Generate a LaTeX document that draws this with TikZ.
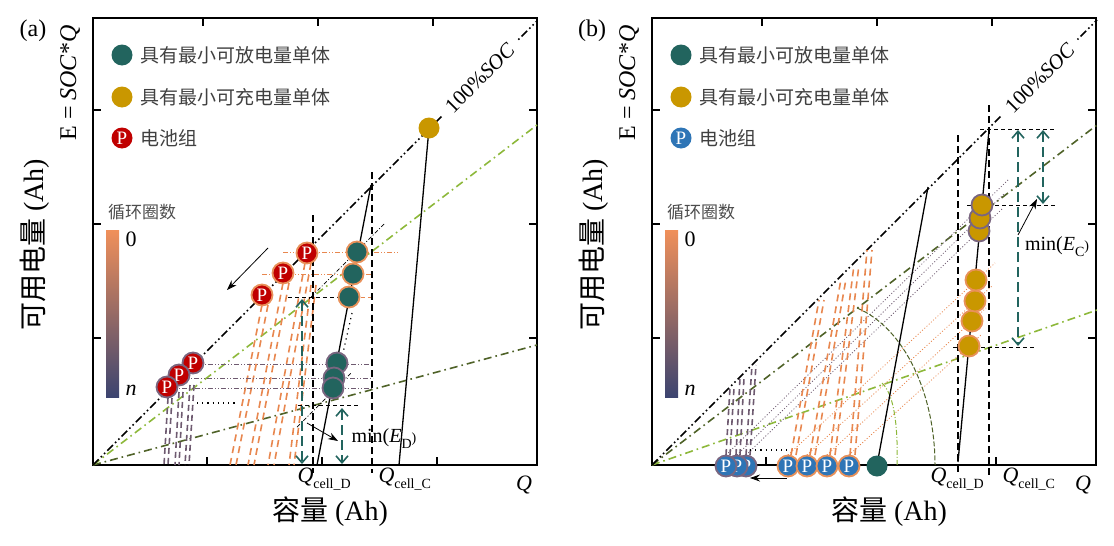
\documentclass[tikz,border=0pt]{standalone}
\usepackage{fontspec}
\setmainfont{Liberation Serif}
\newfontfamily\cjk{Noto Sans CJK SC}
\usetikzlibrary{arrows.meta}
\definecolor{tealc}{HTML}{22645E}
\definecolor{goldc}{HTML}{C99700}
\definecolor{redc}{HTML}{C00000}
\definecolor{bluec}{HTML}{2E75B6}
\definecolor{orc}{HTML}{E8874F}
\definecolor{oro}{HTML}{E8915A}
\definecolor{grc}{HTML}{6E5A70}
\definecolor{gro}{HTML}{7A6680}
\definecolor{lgc}{HTML}{8DB83A}
\definecolor{dgc}{HTML}{4F6228}
\definecolor{cbtop}{HTML}{F0905A}
\definecolor{cbbot}{HTML}{3C4470}
\tikzset{
  box/.style={line width=2.2pt},
  tk/.style={line width=1.6pt},
  socl/.style={black, line width=1.6pt, dash pattern=on 8pt off 3pt on 1.6pt off 3pt on 1.6pt off 3pt},
  lgl/.style={lgc, line width=1.6pt, dash pattern=on 8pt off 4pt on 1.6pt off 4pt},
  dgl/.style={dgc, line width=1.6pt, dash pattern=on 8pt off 4pt on 1.6pt off 4pt},
  vdash/.style={black, line width=1.5pt, dash pattern=on 7pt off 4pt},
  hdash/.style={black, line width=0.9pt, dash pattern=on 4pt off 3pt},
  hdot/.style={black, line width=1.2pt, dash pattern=on 1.2pt off 4pt},
  odd/.style={orc, line width=0.9pt, dash pattern=on 5pt off 2pt on 1pt off 2pt on 1pt off 2pt},
  gdd/.style={grc, line width=0.9pt, dash pattern=on 5pt off 2pt on 1pt off 2pt on 1pt off 2pt},
  kdd/.style={black, line width=0.7pt, dash pattern=on 4pt off 2pt on 1pt off 2pt},
  tarr/.style={tealc, line width=1.6pt, dash pattern=on 10pt off 5pt, <->, >={Straight Barb[length=7pt,width=12pt]}},
  obund/.style={orc, line width=1.6pt, dash pattern=on 7pt off 5pt},
  gbund/.style={grc, line width=1.6pt, dash pattern=on 6pt off 4pt},
  odot/.style={orc, line width=0.8pt, dash pattern=on 1pt off 2pt},
  gdot/.style={grc, line width=0.8pt, dash pattern=on 1pt off 2pt},
  cdot/.style={circle, minimum size=21pt, inner sep=0pt, line width=1.8pt},
  tdot/.style={cdot, fill=tealc},
  ydot/.style={cdot, fill=goldc},
  pdot/.style={cdot, text=white, font=\fontsize{19}{19}\selectfont},
  oo/.style={draw=oro}, go/.style={draw=gro},
  leg/.style={anchor=west, font=\cjk\fontsize{19}{19}\selectfont, text=black!75},
  blk/.style={-{Stealth[length=10pt,width=7pt]}, line width=0.8pt},
  qlab/.style={anchor=base west, font=\fontsize{22}{22}\selectfont},
  soclab/.style={rotate=45, fill=white, inner xsep=9pt, inner ysep=1pt, font=\fontsize{21}{21}\selectfont},
}
\newcommand\sublab[1]{\fontsize{14}{14}\selectfont\raisebox{-6pt}{#1}}
\begin{document}
\begin{tikzpicture}[x=1pt,y=-1pt]
\useasboundingbox (0,0) rectangle (1114,546);
% ===== common frame per panel =====
\foreach \ox/\pn/\pc in {0/a/redc,559/b/bluec}{
\begin{scope}[shift={(\ox,0)}]
  \draw[box] (93,18) rectangle (537,465);
  \foreach \t in {207,322,437} \draw[tk] (\t,465) -- (\t,457);
  \foreach \t in {203,318,433} \draw[tk] (\t,18) -- (\t,26);
  \foreach \t in {110,224,338} {\draw[tk] (93,\t) -- (101,\t); \draw[tk] (537,\t) -- (529,\t);}
  \node[font=\fontsize{24}{24}\selectfont] (lab\pn) at (33,31) {(\pn)};
  \node[rotate=90, font=\fontsize{24}{24}\selectfont] (esoc\pn) at (70,83) {E = \textit{SOC}*\textit{Q}};
  \node[rotate=90, font=\fontsize{28}{28}\selectfont] (ylab\pn) at (35,245) {{\cjk 可用电量}\rmfamily{} (Ah)};
  \node[font=\fontsize{28}{28}\selectfont] (xlab\pn) at (330,512) {{\cjk 容量}\rmfamily{} (Ah)};
  \node[font=\fontsize{22}{22}\selectfont\itshape] (qq\pn) at (524,485) {Q};
  % legend
  \node[tdot] (lt\pn) at (122,55) {};
  \node[leg] (ltt\pn) at (137,55) {具有最小可放电量单体};
  \node[ydot] (ly\pn) at (122,97) {};
  \node[leg] (lyt\pn) at (137,97) {具有最小可充电量单体};
  \node[pdot, fill=\pc] (lp\pn) at (122,138) {P};
  \node[leg] (lpt\pn) at (137,138) {电池组};
  % colour bar
  \shade[top color=cbtop, bottom color=cbbot] (106,230) rectangle (119,397);
  \node[font=\cjk\fontsize{17}{17}\selectfont, text=black!70] (cbt\pn) at (142,212) {循环圈数};
  \node[font=\fontsize{22}{22}\selectfont] (cb0\pn) at (131,239) {0};
  \node[font=\fontsize{22}{22}\selectfont\itshape] (cbn\pn) at (131,390) {n};
\end{scope}}
% ===== panel (a) =====
\draw[dgl] (93,465) -- (537,345);
\draw[lgl] (93,465) -- (537,125);
\draw[socl] (93,465) -- (537,21);
\node[soclab] (soca) at (480,78) {100\%\textit{SOC}};
% grey bundles
\draw[gbund] (168,398)--(164,465); \draw[gbund] (172,398)--(168,465);
\draw[gbund] (179,392)--(175,465); \draw[gbund] (183,392)--(179,465);
\draw[gbund] (190,385)--(185,465); \draw[gbund] (194,385)--(189,465);
% orange bundles
\draw[obund] (262,305)--(230,465); \draw[obund] (268,305)--(236,465);
\draw[obund] (283,283)--(248,465); \draw[obund] (289,283)--(254,465);
\draw[obund] (305,263)--(268,465); \draw[obund] (311,263)--(274,465);
\draw[obund] (311,285)--(289,465); \draw[obund] (316,285)--(294,465);
% horizontals
\draw[odd] (283,252)--(398,252);
\draw[odd] (262,274)--(372,274);
\draw[hdash] (288,297)--(340,297);
\draw[hdash, orc] (340,297)--(372,297);
\draw[gdd] (195,364)--(373,364);
\draw[gdd] (181,378)--(373,378);
\draw[gdd] (169,388)--(373,388);
\draw[hdot] (197,403)--(237,403);
\draw[hdash] (298,405)--(358,405);
\draw[kdd] (384,224)--(308,300);
\draw[kdd] (297,427)--(352,372);
\draw[hdot] (352,313)--(343,353);
% verticals and solids
\draw[vdash] (313,215)--(313,473);
\draw[vdash] (372,172)--(372,473);
\draw[line width=1.3pt] (317,465)--(371,185);
\draw[line width=1.3pt] (399,465)--(429,128);
% teal arrows
\draw[tarr] (302,299)--(302,464);
\draw[tarr] (342,408)--(342,464);
\draw[blk] (268,248)--(227,290);
\draw[blk] (307,423)--(338,441);
\node[font=\fontsize{20}{20}\selectfont] (minED) at (384,439) {min(\textit{E}\sublab{D})};
% dots
\node[tdot,go] (ta4) at (337,363) {};
\node[tdot,go] (ta5) at (334,378) {};
\node[tdot,go] (ta6) at (333,388) {};
\node[tdot,oo] (ta1) at (357,252) {};
\node[tdot,oo] (ta2) at (353,274) {};
\node[tdot,oo] (ta3) at (349,297) {};
\node[pdot,fill=redc,go] (pa4) at (193,363) {P};
\node[pdot,fill=redc,go] (pa5) at (179,375) {P};
\node[pdot,fill=redc,go] (pa6) at (167,387) {P};
\node[pdot,fill=redc,oo] (pa1) at (307,253) {P};
\node[pdot,fill=redc,oo] (pa2) at (283,273) {P};
\node[pdot,fill=redc,oo] (pa3) at (262,295) {P};
\node[ydot] (ya) at (429,128) {};
\node[qlab] (qda) at (294,482) {\textit{Q}\sublab{cell\_D}};
\node[qlab] (qca) at (375,482) {\textit{Q}\sublab{cell\_C}};
% ===== panel (b) =====
\draw[lgl] (652,465) -- (1097,310);
\draw[dgl] (652,465) -- (1097,125);
\draw[socl] (652,465) -- (1097,20);
\node[soclab] (socb) at (1040,78) {100\%\textit{SOC}};
% dotted diagonals
\draw[gdot] (746,455)--(1002,209);
\draw[gdot] (737,455)--(1004,194);
\draw[gdot] (726,455)--(1008,180);
\draw[odot] (788,455)--(995,263);
\draw[odot] (807,455)--(992,286);
\draw[odot] (827,455)--(986,308);
\draw[odot] (849,455)--(981,335);
% grey bundles
\draw[gbund] (726,455)--(730,388); \draw[gbund] (730,455)--(734,388);
\draw[gbund] (736,455)--(740,378); \draw[gbund] (740,455)--(744,378);
\draw[gbund] (746,455)--(752,365); \draw[gbund] (750,455)--(756,365);
% orange bundles
\draw[obund] (791,455)--(819,300); \draw[obund] (796,455)--(824,300);
\draw[obund] (810,455)--(841,279); \draw[obund] (815,455)--(846,279);
\draw[obund] (830,455)--(854,265); \draw[obund] (835,455)--(859,265);
\draw[obund] (850,455)--(867,250); \draw[obund] (855,455)--(872,250);
% arcs
\draw[dgc, line width=1pt, dash pattern=on 5pt off 2pt] (857,308) .. controls (905,328) and (935,395) .. (935,465);
\draw[lgc, line width=1pt, dash pattern=on 5pt off 2pt on 1pt off 2pt] (882,383) .. controls (895,395) and (898,430) .. (897,465);
% verticals, solids
\draw[vdash] (958,135)--(958,473);
\draw[vdash] (989,105)--(989,477);
\draw[line width=1.3pt] (877,465)--(928,187);
\draw[line width=1.3pt] (958,462)--(989,130);
% horizontals
\draw[hdash] (980,129)--(1055,129);
\draw[hdash] (967,205)--(1055,205);
\draw[hdash] (953,347)--(1035,347);
\draw[hdot] (750,450)--(787,450);
% arrows
\draw[tarr] (1018,130)--(1018,346);
\draw[tarr] (1043,130)--(1043,204);
\draw[blk] (1018,235)--(1037,199);
\draw[blk] (787,478)--(750,478);
\node[font=\fontsize{20}{20}\selectfont] (minEC) at (1057,247) {min(\textit{E}\sublab{C})};
% dots
\node[pdot,fill=bluec,go] (pb3) at (746,466) {P};
\node[pdot,fill=bluec,go] (pb2) at (737,466) {P};
\node[pdot,fill=bluec,go] (pb1) at (726,466) {P};
\node[pdot,fill=bluec,oo] (pb4) at (788,466) {P};
\node[pdot,fill=bluec,oo] (pb5) at (807,466) {P};
\node[pdot,fill=bluec,oo] (pb6) at (827,466) {P};
\node[pdot,fill=bluec,oo] (pb7) at (849,466) {P};
\node[tdot] (tb) at (877,466) {};
\node[ydot,go] (yb3) at (979,231) {};
\node[ydot,go] (yb2) at (980,218) {};
\node[ydot,go] (yb1) at (982,205) {};
\node[ydot,oo] (yb7) at (969,346) {};
\node[ydot,oo] (yb6) at (972,321) {};
\node[ydot,oo] (yb5) at (975,301) {};
\node[ydot,oo] (yb4) at (976,280) {};
\node[qlab] (qdb) at (927,482) {\textit{Q}\sublab{cell\_D}};
\node[qlab] (qcb) at (999,482) {\textit{Q}\sublab{cell\_C}};
\end{tikzpicture}
\end{document}
